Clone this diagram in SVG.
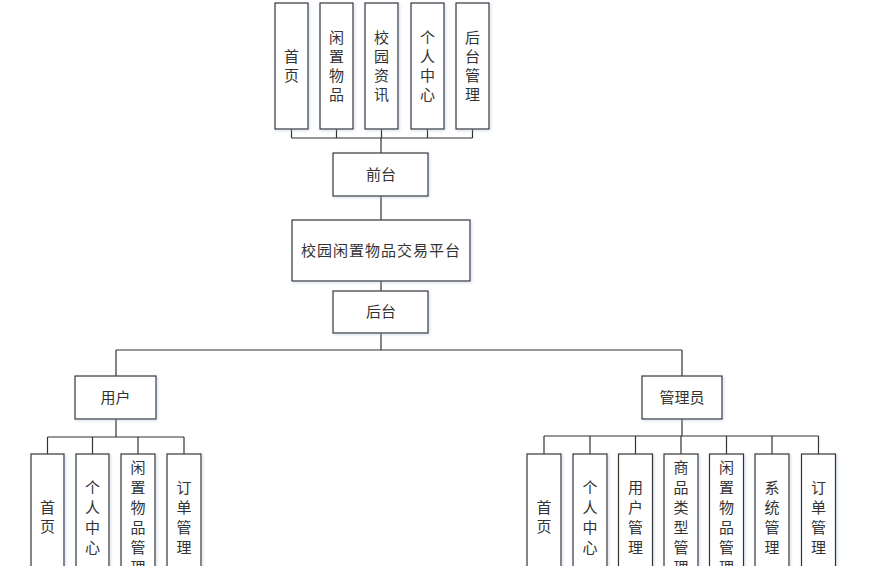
<svg xmlns="http://www.w3.org/2000/svg" width="884" height="566" viewBox="0 0 884 566">
<defs>
<filter id="sh" x="-20%" y="-20%" width="140%" height="140%">
<feDropShadow dx="1" dy="1" stdDeviation="1.5" flood-color="#9db4d6" flood-opacity="0.5"/>
</filter>
</defs>
<style>
rect{fill:#fff;stroke:#333;stroke-width:1.2;filter:url(#sh)}
text{font-family:"Noto Sans CJK SC","Noto Sans",sans-serif;font-size:15px;fill:#333;text-anchor:middle}
#connectors path{fill:none;stroke:#333;stroke-width:1.2}
</style>
<rect width="884" height="566" style="fill:#fff;stroke:none;filter:none"/>
<g id="connectors">
<path d="M291.5 129V138M336.5 129V138M381.5 129V138M427.5 129V138M472.5 129V138M291.5 138H472.5M381 138V153"/>
<path d="M381 196V220M381 281V291M381 333V350M116 350H682M116 350V376M682 350V376"/>
<path d="M116 419V437M47.5 437H184M47.5 437V454M92.5 437V454M138 437V454M184 437V454"/>
<path d="M682 419V436M544 436H818.5M544 436V454M590 436V454M635.5 436V454M681 436V454M726.5 436V454M772 436V454M818.5 436V454"/>
</g>
<g id="n-home"><rect x="275" y="3" width="33" height="126"/><text x="291.5"><tspan x="291.5" y="62">首</tspan><tspan x="291.5" y="81">页</tspan></text></g>
<g id="n-idle"><rect x="320" y="3" width="33" height="126"/><text><tspan x="336.5" y="43">闲</tspan><tspan x="336.5" y="62">置</tspan><tspan x="336.5" y="81">物</tspan><tspan x="336.5" y="100">品</tspan></text></g>
<g id="n-news"><rect x="365" y="3" width="33" height="126"/><text><tspan x="381.5" y="43">校</tspan><tspan x="381.5" y="62">园</tspan><tspan x="381.5" y="81">资</tspan><tspan x="381.5" y="100">讯</tspan></text></g>
<g id="n-center"><rect x="411" y="3" width="33" height="126"/><text><tspan x="427.5" y="43">个</tspan><tspan x="427.5" y="62">人</tspan><tspan x="427.5" y="81">中</tspan><tspan x="427.5" y="100">心</tspan></text></g>
<g id="n-admin"><rect x="456" y="3" width="33" height="126"/><text><tspan x="472.5" y="43">后</tspan><tspan x="472.5" y="62">台</tspan><tspan x="472.5" y="81">管</tspan><tspan x="472.5" y="100">理</tspan></text></g>
<g id="n-front"><rect x="333" y="153" width="95" height="43"/><text x="381" y="180">前台</text></g>
<g id="n-platform"><rect x="292" y="220" width="178" height="61"/><text x="381" y="256" style="letter-spacing:1px">校园闲置物品交易平台</text></g>
<g id="n-back"><rect x="333" y="291" width="95" height="42"/><text x="381" y="317">后台</text></g>
<g id="n-user"><rect x="75" y="376" width="81" height="43"/><text x="115.5" y="403">用户</text></g>
<g id="n-manager"><rect x="642" y="376" width="80" height="43"/><text x="682" y="403">管理员</text></g>
<g id="u-home"><rect x="31" y="454" width="33" height="126"/><text><tspan x="47.5" y="513">首</tspan><tspan x="47.5" y="532">页</tspan></text></g>
<g id="u-center"><rect x="76" y="454" width="33" height="126"/><text><tspan x="92.5" y="493">个</tspan><tspan x="92.5" y="513">人</tspan><tspan x="92.5" y="533">中</tspan><tspan x="92.5" y="553">心</tspan></text></g>
<g id="u-idle"><rect x="121" y="454" width="34" height="126"/><text><tspan x="138" y="473">闲</tspan><tspan x="138" y="493">置</tspan><tspan x="138" y="513">物</tspan><tspan x="138" y="533">品</tspan><tspan x="138" y="553">管</tspan><tspan x="138" y="573">理</tspan></text></g>
<g id="u-order"><rect x="167" y="454" width="34" height="126"/><text><tspan x="184" y="493">订</tspan><tspan x="184" y="513">单</tspan><tspan x="184" y="533">管</tspan><tspan x="184" y="553">理</tspan></text></g>
<g id="a-home"><rect x="527" y="454" width="34" height="126"/><text><tspan x="544" y="513">首</tspan><tspan x="544" y="532">页</tspan></text></g>
<g id="a-center"><rect x="573" y="454" width="34" height="126"/><text><tspan x="590" y="493">个</tspan><tspan x="590" y="513">人</tspan><tspan x="590" y="533">中</tspan><tspan x="590" y="553">心</tspan></text></g>
<g id="a-user"><rect x="618.5" y="454" width="34" height="126"/><text><tspan x="635.5" y="493">用</tspan><tspan x="635.5" y="513">户</tspan><tspan x="635.5" y="533">管</tspan><tspan x="635.5" y="553">理</tspan></text></g>
<g id="a-type"><rect x="664" y="454" width="34" height="126"/><text><tspan x="681" y="473">商</tspan><tspan x="681" y="493">品</tspan><tspan x="681" y="513">类</tspan><tspan x="681" y="533">型</tspan><tspan x="681" y="553">管</tspan><tspan x="681" y="573">理</tspan></text></g>
<g id="a-idle"><rect x="709.5" y="454" width="34" height="126"/><text><tspan x="726.5" y="473">闲</tspan><tspan x="726.5" y="493">置</tspan><tspan x="726.5" y="513">物</tspan><tspan x="726.5" y="533">品</tspan><tspan x="726.5" y="553">管</tspan><tspan x="726.5" y="573">理</tspan></text></g>
<g id="a-system"><rect x="755" y="454" width="34" height="126"/><text><tspan x="772" y="493">系</tspan><tspan x="772" y="513">统</tspan><tspan x="772" y="533">管</tspan><tspan x="772" y="553">理</tspan></text></g>
<g id="a-order"><rect x="801.5" y="454" width="34" height="126"/><text><tspan x="818.5" y="493">订</tspan><tspan x="818.5" y="513">单</tspan><tspan x="818.5" y="533">管</tspan><tspan x="818.5" y="553">理</tspan></text></g>
</svg>
